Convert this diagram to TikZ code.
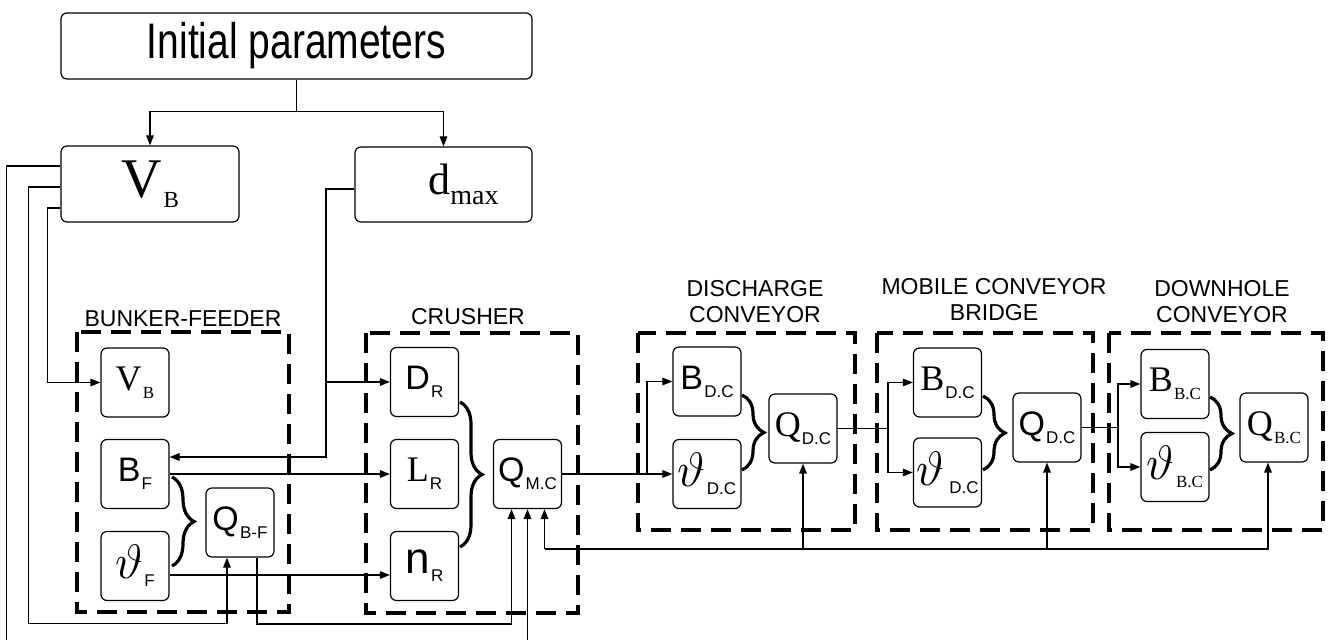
\documentclass[tikz,border=0pt]{standalone}
\usepackage{fontspec}
\setmainfont{Liberation Serif}
\setsansfont{Liberation Sans}
\newfontfamily\narrowsf[FakeStretch=0.78]{Liberation Sans}
\usepackage{graphicx}
\usepackage{tikz}
\usetikzlibrary{decorations.pathreplacing,arrows.meta,calc}

\newcommand{\ssub}[1]{\kern0.6pt\raisebox{-4pt}{\sffamily\fontsize{8.5}{9}\selectfont #1}}
\newcommand{\rsub}[1]{\kern0.6pt\raisebox{-4pt}{\rmfamily\fontsize{8.5}{9}\selectfont #1}}
\newcommand{\rmbig}[1]{{\rmfamily\fontsize{18}{18}\selectfont #1}}
\newcommand{\thbig}{\scalebox{1.4}{$\vartheta$}}

\begin{document}
\begin{tikzpicture}[x=0.5pt, y=-0.5pt,
    box/.style={draw, rounded corners=3pt, line width=0.6pt, inner sep=0pt,
        minimum width=34pt, minimum height=34.5pt, font=\sffamily\fontsize{17}{17}\selectfont},
    bigbox/.style={draw, rounded corners=3pt, line width=0.6pt, inner sep=0pt},
    group/.style={line width=1.8pt, dash pattern=on 10pt off 5pt},
    grplabel/.style={font=\sffamily\fontsize{11.5}{13}\selectfont, align=center, inner sep=0pt},
    wire/.style={line width=0.6pt},
    arr/.style={wire, -{Triangle[length=5pt,width=3.8pt]}},
    brc/.style={decorate, decoration={brace, amplitude=11pt}, line width=1.6pt}]

    \useasboundingbox (0,0) rectangle (1330,640);
    \clip (0,0) rectangle (1330,640);

    % Initial parameters
    \node[bigbox, minimum width=235.5pt, minimum height=33pt,
        font=\narrowsf\fontsize{25}{25}\selectfont] (init) at (296.5,46) {Initial parameters};
    \node[bigbox, minimum width=89pt, minimum height=38pt] (vbtop) at (150,184)
        {{\rmfamily\fontsize{28}{28}\selectfont V}\kern1pt\raisebox{-5pt}{\rmfamily\fontsize{11.5}{12}\selectfont B}};
    \node[bigbox, minimum width=88.5pt, minimum height=37.5pt] (dmax) at (443.5,184.5)
        {\hspace*{20pt}{\rmfamily\fontsize{22}{22}\selectfont d}\raisebox{-5pt}{\rmfamily\fontsize{14}{14}\selectfont max}};

    \draw[wire] (init.south) -- ++(0,32) coordinate (split);
    \draw[arr] (split) -| (vbtop.north);
    \draw[arr] (split) -| (dmax.north);

    % Dashed groups
    \draw[group] (77,332) rectangle (289,612);
    \node[grplabel] (gbf) at (183,319) {BUNKER-FEEDER};
    \draw[group] (366,333) rectangle (578,613);
    \node[grplabel] (gcr) at (468,317) {CRUSHER};
    \draw[group] (638,333) rectangle (855,530);
    \node[grplabel] (gdc) at (755,302) {DISCHARGE\\CONVEYOR};
    \draw[group] (877,333) rectangle (1093,530);
    \node[grplabel] (gmb) at (994,300) {MOBILE CONVEYOR\\BRIDGE};
    \draw[group] (1109,333) rectangle (1323,530);
    \node[grplabel] (gdh) at (1222,302) {DOWNHOLE\\CONVEYOR};

    % Bunker-feeder
    \node[box] (VBin) at (135,382.5) {\rmbig{V}\rsub{B}};
    \node[box] (BF) at (135,474) {B\ssub{F}};
    \node[box] (thF) at (135,566) {\thbig\ssub{F}};
    \node[box] (QBF) at (240,522.5) {Q\ssub{B-F}};
    \draw[brc] (172,477) -- (172,566);

    % Crusher
    \node[box] (DR) at (424.5,382) {D\ssub{R}};
    \node[box] (LR) at (424.5,474) {\rmbig{L}\ssub{R}};
    \node[box] (nR) at (424.5,566) {{\fontsize{22}{22}\selectfont n}\ssub{R}};
    \node[box] (QMC) at (527.5,474) {Q\ssub{M.C}};
    \draw[brc] (460,402) -- (460,547);

    % Discharge conveyor
    \node[box] (BDC1) at (707,381.5) {B\ssub{D.C}};
    \node[box] (thDC1) at (707,474) {\thbig\ssub{D.C}};
    \node[box] (QDC1) at (803,428.5) {\rmbig{Q}\ssub{D.C}};
    \draw[brc] (742,395) -- (742,470);

    % Mobile conveyor bridge
    \node[box] (BDC2) at (947.5,382.5) {\rmbig{B}\ssub{D.C}};
    \node[box] (thDC2) at (947.5,472.5) {\thbig\kern2pt\ssub{D.C}};
    \node[box] (QDC2) at (1047,427.5) {Q\ssub{D.C}};
    \draw[brc] (983,396) -- (983,470);

    % Downhole conveyor
    \node[box] (BBC) at (1175,384) {\rmbig{B}\rsub{B.C}};
    \node[box] (thBC) at (1175,467) {\thbig\rsub{B.C}};
    \node[box] (QBC) at (1274,427.5) {\rmbig{Q}\rsub{B.C}};
    \draw[brc] (1210,397) -- (1210,470);

    % Lines from V_B
    \draw[arr] ($(vbtop.west)+(0,-18)$) -- ++(-54,0) |- ($(QMC.south)+(0,160)$) -- (QMC.south);
    \draw[arr] ($(vbtop.west)+(0,3)$) -- ++(-32,0) |- ($(QBF.south)+(-13,66)$) -- ($(QBF.south)+(-13,0)$);
    \draw[arr] ($(vbtop.west)+(0,24)$) -- ++(-13,0) |- (VBin.west);

    % Lines from d_max
    \coordinate (dj) at (326,382);
    \draw[arr] ($(dmax.west)+(0,4.5)$) -| (326,457) -- ($(BF.east)+(0,-17)$);
    \draw[arr] (dj) -- (DR.west);

    % Feeder to crusher
    \draw[arr] (BF.east) -- (LR.west);
    \draw[arr] ($(thF.east)+(0,9)$) -- ($(nR.west)+(0,9)$);
    \draw[arr] ($(QBF.south)+(17,0)$) |- ($(QMC.south)+(-16,115)$) -- ($(QMC.south)+(-16,0)$);

    % Feedback from conveyors
    \coordinate (fb) at ($(QMC.south)+(17,40)$);
    \draw[arr] (fb) -- ($(QMC.south)+(17,0)$);
    \draw[arr] (fb) -| ($(QBC.south)+(-6,0)$);
    \draw[arr] (QDC1.south |- fb) -- (QDC1.south);
    \draw[arr] (QDC2.south |- fb) -- (QDC2.south);

    % Crusher to conveyors
    \coordinate (j1) at (647,474);
    \draw[arr] (QMC.east) -- (thDC1.west);
    \draw[arr] (j1) |- (BDC1.west);
    \coordinate (j2) at (888,428.5);
    \draw[wire] (QDC1.east) -- (j2);
    \draw[arr] (j2) |- (BDC2.west);
    \draw[arr] (j2) |- (thDC2.west);
    \coordinate (j3) at (1118,427.5);
    \draw[wire] (QDC2.east) -- (j3);
    \draw[arr] (j3) |- (BBC.west);
    \draw[arr] (j3) |- (thBC.west);

\end{tikzpicture}
\end{document}
